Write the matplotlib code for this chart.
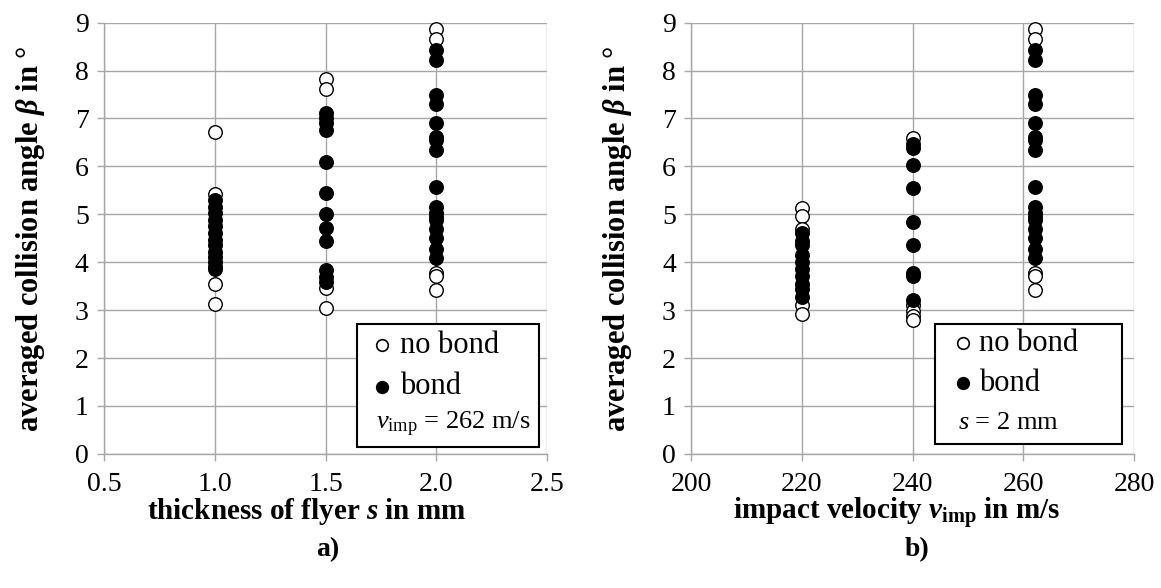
import matplotlib
matplotlib.use("Agg")
import matplotlib.pyplot as plt
from matplotlib.patches import Rectangle

plt.rcParams['font.family'] = ['Liberation Serif', 'DejaVu Serif']
plt.rcParams['mathtext.fontset'] = 'custom'
plt.rcParams['mathtext.rm'] = 'Liberation Serif'
plt.rcParams['mathtext.it'] = 'Liberation Serif:italic'
plt.rcParams['mathtext.bf'] = 'Liberation Serif:bold'
plt.rcParams['mathtext.bfit'] = 'Liberation Serif:italic:bold'

# ---- data: panel a) thickness of flyer ----
a_nobond_x = [1.0, 1.0, 1.0, 1.0,
              1.5, 1.5, 1.5, 1.5,
              2.0, 2.0, 2.0, 2.0, 2.0]
a_nobond_y = [6.71, 5.42, 3.54, 3.12,
              7.82, 7.61, 3.46, 3.04,
              8.86, 8.67, 3.78, 3.72, 3.42]
a_bond_x = [1.0] * 13 + [1.5] * 12 + [2.0] * 17
a_bond_y = [5.30, 5.15, 5.02, 4.88, 4.75, 4.60, 4.47, 4.35, 4.22, 4.10, 4.00, 3.90, 3.85,
            7.12, 7.00, 6.90, 6.75, 6.10, 5.45, 5.00, 4.72, 4.45, 3.84, 3.70, 3.59,
            8.44, 8.22, 7.49, 7.30, 6.90, 6.61, 6.34, 5.56, 5.16, 5.02, 4.95, 4.88, 4.69,
            4.28, 4.08, 4.50, 6.55]

# ---- data: panel b) impact velocity ----
b_nobond_x = [220] * 5 + [240] * 5 + [262] * 5
b_nobond_y = [5.13, 4.97, 4.70, 3.10, 2.92,
              6.60, 3.10, 2.98, 2.88, 2.80,
              8.86, 8.67, 3.78, 3.72, 3.42]
b_bond_x = [220] * 10 + [240] * 9 + [262] * 17
b_bond_y = [4.60, 4.45, 4.35, 4.15, 4.00, 3.85, 3.72, 3.55, 3.45, 3.28,
            6.47, 6.38, 6.03, 5.54, 4.83, 4.35, 3.78, 3.72, 3.22,
            8.44, 8.22, 7.49, 7.30, 6.90, 6.61, 6.34, 5.56, 5.16, 5.02, 4.95, 4.88, 4.69,
            4.28, 4.08, 4.50, 6.55]

a_xticks = [0.5, 1.0, 1.5, 2.0, 2.5]
a_xticklabels = ['0.5', '1.0', '1.5', '2.0', '2.5']
b_xticks = [200, 220, 240, 260, 280]
b_xticklabels = ['200', '220', '240', '260', '280']
yticks = list(range(0, 10))

GRID = '#a6a6a6'
W, H = 1161, 588
fig = plt.figure(figsize=(W / 100, H / 100), dpi=100)

def px_axes(x0, x1, ytop, ybot):
    return fig.add_axes([x0 / W, 1 - ybot / H, (x1 - x0) / W, (ybot - ytop) / H])

axA = px_axes(104, 547, 22.7, 453.8)
axB = px_axes(691.2, 1134.2, 22.7, 453.8)

MS = 95

def style(ax, xlim, xticks, xticklabels):
    ax.set_xlim(*xlim)
    ax.set_ylim(0, 9)
    ax.set_xticks(xticks)
    ax.set_xticklabels(xticklabels)
    ax.set_yticks(yticks)
    ax.grid(True, color=GRID, linewidth=1.0)
    ax.set_axisbelow(True)
    for s in ['top', 'right']:
        ax.spines[s].set_visible(False)
    for s in ['left', 'bottom']:
        ax.spines[s].set_color(GRID)
        ax.spines[s].set_linewidth(1.0)
    ax.tick_params(direction='out', length=5, width=1, color=GRID, labelsize=20, pad=6)
    ax.tick_params(axis='x', pad=8)

style(axA, (0.5, 2.5), a_xticks, a_xticklabels)
style(axB, (200, 280), b_xticks, b_xticklabels)

for ax, nx, ny, bx, by in [(axA, a_nobond_x, a_nobond_y, a_bond_x, a_bond_y),
                            (axB, b_nobond_x, b_nobond_y, b_bond_x, b_bond_y)]:
    ax.scatter(nx, ny, s=MS, facecolor='white', edgecolor='black', linewidth=1.0, zorder=3, clip_on=False)
    ax.scatter(bx, by, s=MS, facecolor='black', edgecolor='black', linewidth=1.0, zorder=4, clip_on=False)

ylab = 'averaged collision angle $\\mathbfit{\\beta}$ in °'
for ax in (axA, axB):
    ax.set_ylabel(ylab, fontsize=22, fontweight='bold', labelpad=20)

axA.set_xlabel('thickness of flyer $\\mathbfit{s}$ in mm', fontsize=21, fontweight='bold')
axB.set_xlabel('impact velocity $\\mathbfit{v}_{\\mathbf{imp}}$ in m/s', fontsize=21, fontweight='bold')
axA.xaxis.set_label_coords(0.458, -0.097)
axB.xaxis.set_label_coords(0.465, -0.097)

fig.text(328 / W, 1 - 550 / H, 'a)', fontsize=20, fontweight='bold', ha='center', va='center')
fig.text(917 / W, 1 - 550 / H, 'b)', fontsize=20, fontweight='bold', ha='center', va='center')

# legend boxes
def legend_box(ax, box, mx, tx, ex, rows, extra):
    x0, x1, y0, y1 = box
    ax.add_patch(Rectangle((x0, y0), x1 - x0, y1 - y0, transform=ax.transAxes,
                           facecolor='white', edgecolor='black', linewidth=1.5, zorder=10))
    ax.scatter([mx], [rows[0]], s=70, facecolor='white', edgecolor='black', linewidth=1.2,
               transform=ax.transAxes, zorder=11, clip_on=False)
    ax.scatter([mx], [rows[1]], s=70, facecolor='black', edgecolor='black', linewidth=1.2,
               transform=ax.transAxes, zorder=11, clip_on=False)
    ax.text(tx, rows[0], 'no bond', transform=ax.transAxes, fontsize=22, va='center', ha='left', zorder=12)
    ax.text(tx, rows[1], 'bond', transform=ax.transAxes, fontsize=22, va='center', ha='left', zorder=12)
    ax.text(ex, rows[2], extra, transform=ax.transAxes, fontsize=19, va='center', ha='left', zorder=12)

legend_box(axA, (0.572, 0.983, 0.015, 0.301), 0.627, 0.668, 0.613,
           (0.252, 0.155, 0.069), '$\\mathit{v}_{\\mathrm{imp}}$ = 262 m/s')
legend_box(axB, (0.550, 0.973, 0.022, 0.301), 0.614, 0.650, 0.603,
           (0.256, 0.164, 0.071), '$\\mathit{s}$ = 2 mm')

fig.savefig('out.png', dpi=100)
